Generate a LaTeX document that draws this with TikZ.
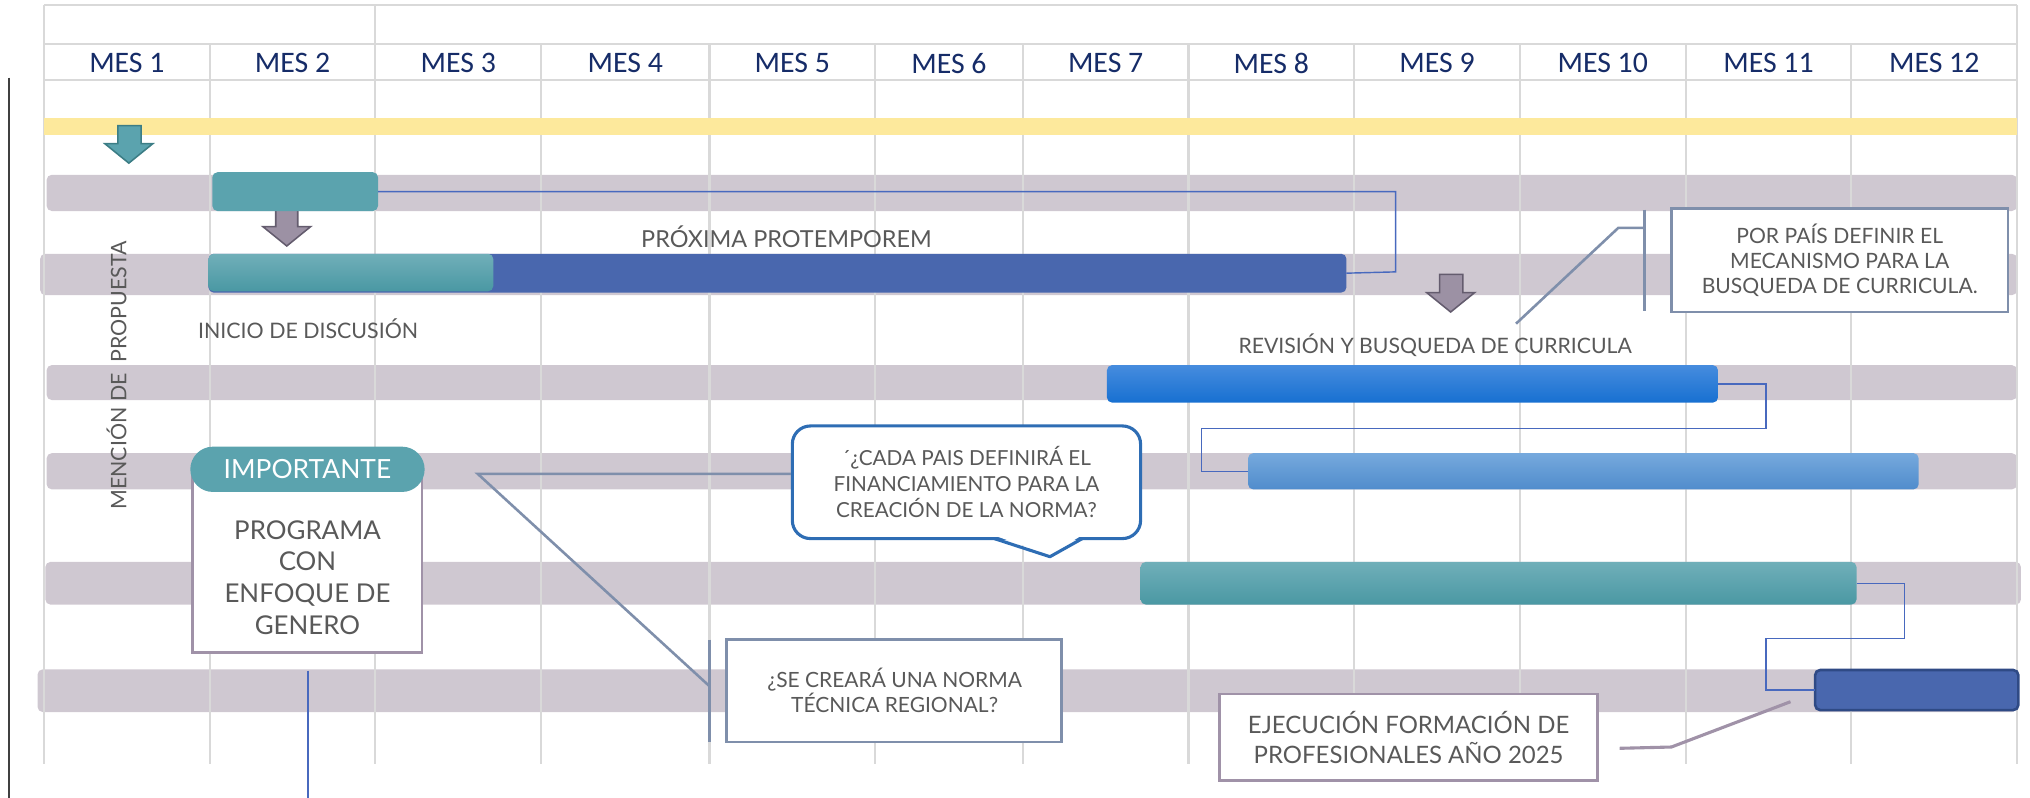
\documentclass[tikz,border=0pt]{standalone}
\usepackage{fontspec}
\setmainfont{Lato}
\newfontfamily\hdrfont{Carlito}
\usetikzlibrary{calc}
\definecolor{gridc}{RGB}{217,217,217}
\definecolor{rowc}{RGB}{207,200,209}
\definecolor{yellowc}{RGB}{253,233,156}
\definecolor{tealc}{RGB}{91,163,174}
\definecolor{tealtop}{RGB}{112,175,185}
\definecolor{tealbot}{RGB}{74,152,163}
\definecolor{darkblue}{RGB}{73,103,174}
\definecolor{darkblued}{RGB}{47,74,133}
\definecolor{brtop}{RGB}{70,140,222}
\definecolor{brbot}{RGB}{23,112,209}
\definecolor{lbtop}{RGB}{118,169,221}
\definecolor{lbbot}{RGB}{80,140,204}
\definecolor{linkc}{RGB}{72,105,190}
\definecolor{slatec}{RGB}{127,143,171}
\definecolor{mauvec}{RGB}{160,146,168}
\definecolor{bubc}{RGB}{46,109,180}
\definecolor{arrgray}{RGB}{156,145,164}
\definecolor{arrgrayd}{RGB}{100,92,110}
\definecolor{arrteald}{RGB}{60,125,133}
\definecolor{txtc}{RGB}{89,89,89}
\definecolor{navyc}{RGB}{22,44,104}
\definecolor{leftc}{RGB}{64,64,64}
\begin{document}
\begin{tikzpicture}[x=1pt,y=-1pt,
  gline/.style={draw=gridc,line width=1.6pt},
  rowbar/.style={fill=rowc,rounded corners=4pt,inner sep=0pt,outer sep=0pt},
  bar/.style={rounded corners=4pt,inner sep=0pt,outer sep=0pt},
  link/.style={draw=linkc,line width=1.1pt},
  hdr/.style={font=\hdrfont\fontsize{23}{27}\selectfont,text=navyc,inner sep=0pt},
  lbl/.style={font=\fontsize{17.5}{21}\selectfont,text=txtc,inner sep=0pt},
  slatebox/.style={draw=slatec,line width=2pt,fill=white,inner sep=0pt},
  mauvebox/.style={draw=mauvec,line width=2.2pt,fill=white,inner sep=0pt},
  slateline/.style={draw=slatec,line width=2pt},
  mauveline/.style={draw=mauvec,line width=2.4pt},
  downarrow/.style={line width=1.2pt,line join=miter}
]
\useasboundingbox (0,0) rectangle (1568,616);
% left rule
\coordinate (lr1) at (7,60);
\coordinate (lr2) at (7,616);
\draw[leftc,line width=1.3pt] (lr1) -- (lr2);
% gray rows
\node[rowbar,minimum width=1522pt,minimum height=28pt] (r1) at (797,149) {};
\node[rowbar,minimum width=1527pt,minimum height=32pt] (r2) at (794.5,212) {};
\node[rowbar,minimum width=1522pt,minimum height=27pt] (r3) at (797,295.5) {};
\node[rowbar,minimum width=1522pt,minimum height=28pt] (r4) at (797,364) {};
\node[rowbar,minimum width=1526pt,minimum height=33pt] (r5) at (798,450.5) {};
\node[rowbar,minimum width=1529pt,minimum height=33pt] (r6) at (793.5,533.5) {};
% grid
\foreach \x in {162,418,548,676,790,918,1046,1174,1302,1430}
  \draw[gline] (\x,34) -- (\x,590);
\foreach \x in {34,290,1558}
  \draw[gline] (\x,4) -- (\x,590);
\foreach \y in {4,34,62}
  \draw[gline] (34,\y) -- (1558,\y);
% month headers
\foreach \c [count=\i] in {98,226,354,483,612,733,854,982,1110,1238,1366,1494}
  \node[hdr] (m\i) at (\c,49) {MES \i};
% yellow band
\fill[yellowc] (34,91) rectangle (1558,104);
% arrows
\draw[downarrow,fill=tealc,draw=arrteald] (91,97) -- (109,97) -- (109,111) -- (118,111) -- (99.5,126) -- (81,111) -- (91,111) -- cycle;
\draw[downarrow,fill=arrgray,draw=arrgrayd] (213,162) -- (230,162) -- (230,175) -- (240,175) -- (221.5,190) -- (203,175) -- (213,175) -- cycle;
\draw[downarrow,fill=arrgray,draw=arrgrayd] (1112,212) -- (1130,212) -- (1130,226) -- (1139,226) -- (1120.5,241) -- (1102,226) -- (1112,226) -- cycle;
% bars
\node[bar,fill=tealc,minimum width=128pt,minimum height=30pt] (bA) at (228,148) {};
\node[bar,fill=darkblue,minimum width=879pt,minimum height=30pt] (bB) at (600.5,211) {};
\node[bar,top color=tealtop,bottom color=tealbot,minimum width=220pt,minimum height=29pt] (bBt) at (271,210.5) {};
\node[bar,top color=brtop,bottom color=brbot,minimum width=472pt,minimum height=29pt] (bC) at (1091,296.5) {};
\node[bar,top color=lbtop,bottom color=lbbot,minimum width=518pt,minimum height=28pt] (bD) at (1223,364) {};
\node[bar,top color=tealtop,bottom color=tealbot,minimum width=553pt,minimum height=33pt] (bE) at (1157.5,450.5) {};
\node[bar,fill=darkblue,draw=darkblued,line width=2pt,minimum width=157pt,minimum height=31pt] (bF) at (1480.5,533) {};
% links
\draw[link] (bA.east) -| (1078,210) -- (bB.east);
\draw[link] (bC.east) -| (1364,331) -- (928,331) |- (bD.west);
\draw[link] (bE.east) -| (1471,493) -- (1364,493) |- (bF.west);
% labels
\node[lbl,font=\fontsize{18.1}{21}\selectfont] (t1) at (607.5,183) {PRÓXIMA PROTEMPOREM};
\node[lbl,font=\fontsize{16.5}{20}\selectfont] (t2) at (238,254) {INICIO DE DISCUSIÓN};
\node[lbl,font=\fontsize{16.4}{20}\selectfont] (t3) at (1108.5,267) {REVISIÓN Y BUSQUEDA DE CURRICULA};
\node[lbl,rotate=90,font=\fontsize{16.5}{20}\selectfont] (t4) at (90,290) {MENCIÓN DE\ \ PROPUESTA};
% callout 1
\node[slatebox,minimum width=260pt,minimum height=80pt,align=center,text=txtc,font=\fontsize{16.3}{19}\selectfont] (cb1) at (1421,201) {POR PAÍS DEFINIR EL\\MECANISMO PARA LA\\BUSQUEDA DE CURRICULA.};
\coordinate (cb1a) at (1270,162);
\coordinate (cb1b) at (1270,240);
\coordinate (cb1k) at (1270,176);
\coordinate (cb1e) at (1171,250);
\draw[slateline] (cb1a) -- (cb1b);
\draw[slateline] (cb1k) -- (1250,176) -- (cb1e);
% importante
\node[mauvebox,minimum width=177pt,minimum height=142pt] (gbox) at (237.5,433) {};
\node[fill=tealc,rounded corners=17.5pt,minimum width=181pt,minimum height=35pt,inner sep=0pt,text=white,font=\fontsize{20.4}{24}\selectfont] (imp) at (237.5,362.5) {IMPORTANTE};
\node[lbl,align=center,font=\fontsize{20}{24.5}\selectfont] (gtxt) at (237.5,446) {PROGRAMA\\CON\\ENFOQUE DE\\GENERO};
\coordinate (gl1) at (238,518);
\coordinate (gl2) at (238,616);
\draw[link] (gl1) -- (gl2);
% bubble
\node[draw=bubc,line width=2.4pt,fill=white,rounded corners=14pt,minimum width=269pt,minimum height=87pt,inner sep=0pt,align=center,text=txtc,font=\fontsize{16}{20}\selectfont] (bub) at (746.5,372.5) {´¿CADA PAIS DEFINIRÁ EL\\FINANCIAMIENTO PARA LA\\CREACIÓN DE LA NORMA?};
\fill[white] (769.5,414.2) -- (811,428.5) -- (834.5,414.2) -- cycle;
\draw[bubc,line width=2.4pt,line join=round] (768,416) -- (811,430) -- (836,416);
% callout 2
\node[slatebox,minimum width=259pt,minimum height=79pt] (cb2) at (690.5,533.5) {};
\node[lbl,align=center,font=\fontsize{16.2}{19.5}\selectfont] (cb2t) at (691,533.5) {¿SE CREARÁ UNA NORMA\\TÉCNICA REGIONAL?};
\coordinate (cb2a) at (548,494);
\coordinate (cb2b) at (548,573);
\coordinate (cb2k) at (548,530);
\draw[slateline] (cb2a) -- (cb2b);
\draw[slateline] ([yshift=6.5pt]bub.west) -- (369,366) -- (cb2k);
% callout 3
\node[mauvebox,minimum width=292pt,minimum height=67pt,align=center,text=txtc,font=\fontsize{18.5}{23}\selectfont] (cb3) at (1088,569.5) {EJECUCIÓN FORMACIÓN DE\\PROFESIONALES AÑO 2025};
\coordinate (cb3s) at (1251,578);
\coordinate (cb3e) at (1383,542);
\draw[mauveline] (cb3s) -- (1291,577) -- (cb3e);
\end{tikzpicture}
\end{document}
